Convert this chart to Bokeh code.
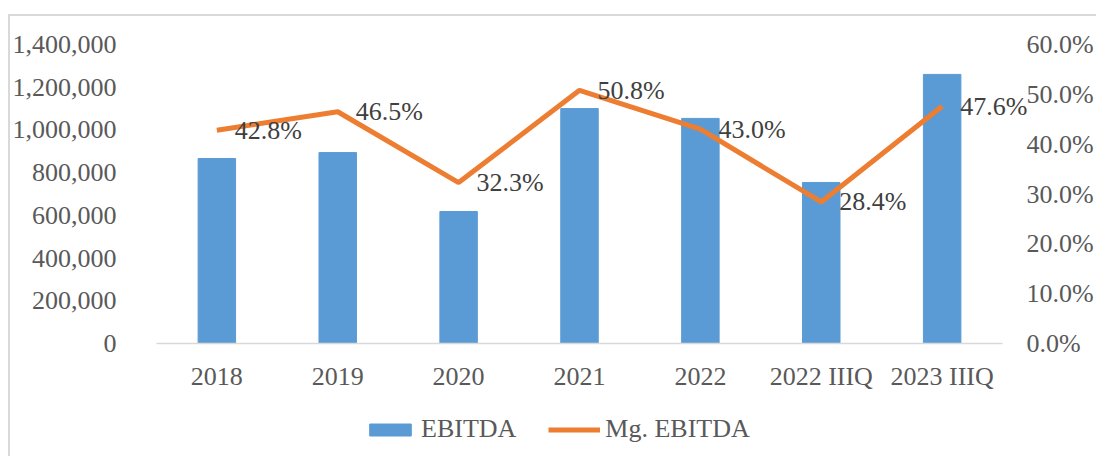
from bokeh.plotting import figure
from bokeh.models import (Range1d, FactorRange, LinearAxis, NumeralTickFormatter, PrintfTickFormatter,
                          Legend, LegendItem, ColumnDataSource, FixedTicker)
from bokeh.core.properties import value
from bokeh.embed import file_html
from bokeh.resources import INLINE

categories = ["2018", "2019", "2020", "2021", "2022", "2022 IIIQ", "2023 IIIQ"]
ebitda = [866000, 894000, 618000, 1100000, 1054000, 754000, 1260000]
mg_ebitda = [42.8, 46.5, 32.3, 50.8, 43.0, 28.4, 47.6]
left_ticks = [0, 200000, 400000, 600000, 800000, 1000000, 1200000, 1400000]
right_ticks = [0, 10, 20, 30, 40, 50, 60]

FONT = "Liberation Serif"
FS = "26px"
AX_COL = "#595959"

# layout: frame extends below the zero line (legend) and sideways (labels)
W, H = 1096, 456
TOP, LEFT, RIGHT, BOTTOM = 44, 124, 62, 5
ZERO_PX = 343                      # canvas y of the zero line
FRAME_BOTTOM_PX = H - BOTTOM
ext = (FRAME_BOTTOM_PX - ZERO_PX) / (ZERO_PX - TOP)
SIDE_PAD = 0.264                   # extra factor-units of frame on each side

YMAX, PMAX = 1400000, 60
src = ColumnDataSource(dict(cat=categories, ebitda=ebitda, mg=mg_ebitda,
                            lbl=["%.1f%%" % v for v in mg_ebitda]))

p = figure(x_range=FactorRange(factors=categories, range_padding=SIDE_PAD,
                               range_padding_units="absolute"),
           y_range=Range1d(-ext * YMAX, YMAX),
           width=W, height=H, output_backend="svg", toolbar_location=None,
           min_border_left=LEFT, min_border_right=RIGHT, min_border_top=TOP,
           min_border_bottom=BOTTOM)
p.border_fill_alpha = 0
p.styles = {"background": "linear-gradient(#d9d9d9,#d9d9d9) 8px 14px / 100% 2px no-repeat, "
                          "linear-gradient(#d9d9d9,#d9d9d9) 8px 14px / 2px 100% no-repeat, white"}
p.outline_line_color = None
p.xgrid.grid_line_color = None
p.ygrid.grid_line_color = None
p.extra_y_ranges = {"pct": Range1d(-ext * PMAX, PMAX)}

bars = p.vbar(x="cat", top="ebitda", width=0.31, source=src,
              fill_color="#5B9BD5", line_color="#5B9BD5")
line = p.line(x="cat", y="mg", source=src, y_range_name="pct",
              line_color="#ED7D31", line_width=5)

p.text(x="cat", y="mg", text="lbl", source=src, y_range_name="pct",
       x_offset=18, y_offset=0, text_baseline="middle", text_align="left",
       text_font=value(FONT), text_font_size=value(FS), text_color="#404040")

ya = p.yaxis[0]
ya.ticker = FixedTicker(ticks=left_ticks)
ya.formatter = NumeralTickFormatter(format="0,0")

right = LinearAxis(y_range_name="pct", ticker=FixedTicker(ticks=right_ticks),
                   formatter=PrintfTickFormatter(format="%.1f%%"))
p.add_layout(right, "right")

for ax, so in [(ya, 8), (right, -8)]:
    ax.axis_line_color = None
    ax.major_tick_line_color = None
    ax.minor_tick_line_color = None
    ax.major_tick_out = 0
    ax.major_tick_in = 0
    ax.minor_tick_out = 0
    ax.major_label_standoff = so
    ax.major_label_text_font = FONT
    ax.major_label_text_font_size = FS
    ax.major_label_text_color = AX_COL

xa = p.xaxis[0]
xa.fixed_location = 0
xa.bounds = (0, len(categories))
xa.axis_line_color = "#d9d9d9"
xa.axis_line_width = 1.5
xa.major_tick_line_color = None
xa.minor_tick_line_color = None
xa.major_tick_out = 0
xa.major_tick_in = 0
xa.major_label_standoff = 18
xa.major_label_text_font = FONT
xa.major_label_text_font_size = FS
xa.major_label_text_color = AX_COL

legend = Legend(items=[LegendItem(label="EBITDA", renderers=[bars]),
                       LegendItem(label="Mg. EBITDA", renderers=[line])],
                orientation="horizontal", location=(240, 7),
                glyph_width=52, glyph_height=15, label_standoff=5, spacing=32,
                padding=0, margin=0, border_line_color=None, background_fill_alpha=0,
                label_text_font=FONT, label_text_font_size=FS, label_text_color=AX_COL)
p.add_layout(legend, "center")

open("out.html", "w").write(file_html(p, INLINE))
